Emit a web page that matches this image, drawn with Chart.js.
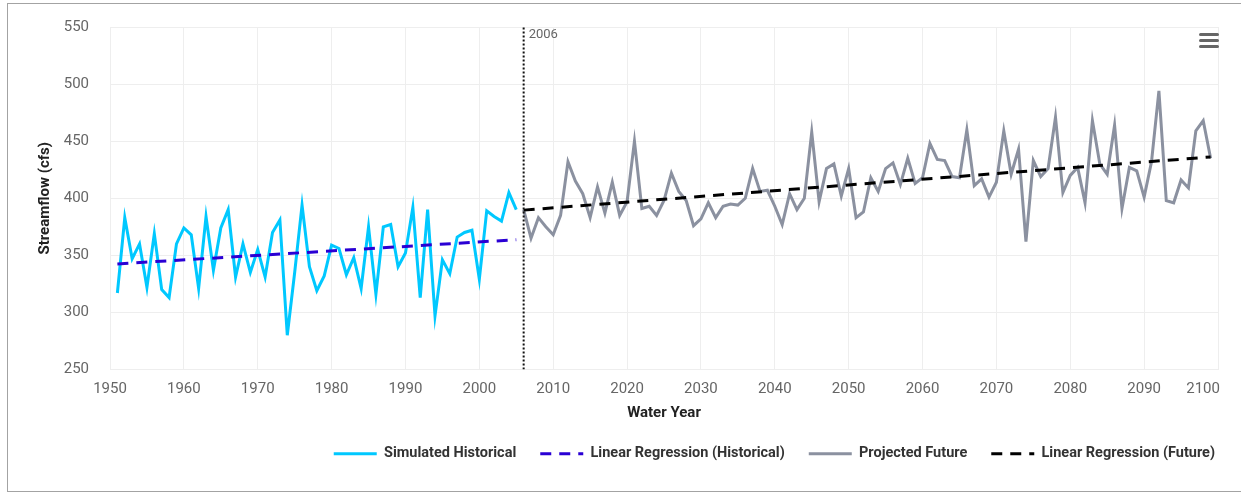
<!DOCTYPE html>
<html>
<head>
<meta charset="utf-8">
<script src="https://cdn.jsdelivr.net/npm/chart.js@4.4.1/dist/chart.umd.min.js"></script>
<style>
  html, body { margin: 0; padding: 0; background: #fff; width: 1241px; height: 494px; overflow: hidden; }
  #frame { position: absolute; left: 7px; top: 3px; width: 1250px; height: 487px; border: 1px solid #a3a3a3; }
  #chart { position: absolute; left: 0; top: 0; }
  .menu { position: absolute; left: 1191px; top: 29px; width: 20px; }
  .menu span { display: block; height: 3px; border-radius: 2px; background: #666; margin-bottom: 3px; }
</style>
</head>
<body>
<div id="frame">
  <canvas id="chart" width="1236" height="467"></canvas>
  <div class="menu"><span></span><span></span><span></span></div>
</div>
<script>
// Annual streamflow (cfs), simulated historical record starting 1951
const histStartYear = 1951;
const histValues = [
  317, 383, 347, 360, 322, 369, 320, 313, 360, 374,
  368, 321, 384, 337, 374, 390, 331, 360, 335, 355,
  331, 370, 381, 280, 335, 394, 340, 319, 332, 359,
  356, 333, 348, 321, 375, 316, 375, 377, 340, 352,
  392, 313, 390, 297, 346, 334, 366, 370, 372, 329,
  389, 384, 380, 405, 390
];

// Projected future streamflow (cfs), starting 2006
const futureStartYear = 2006;
const futureValues = [
  390, 365, 383, 375, 368, 385, 432, 415, 404, 383,
  410, 387, 414, 385, 397, 450, 391, 393, 385, 398,
  422, 406, 398, 376, 382, 396, 383, 393, 395, 394,
  400, 426, 406, 407, 393, 377, 404, 390, 400, 458,
  397, 426, 430, 402, 426, 383, 388, 418, 406, 426,
  431, 412, 435, 413, 418, 448, 434, 433, 419, 418,
  460, 411, 417, 401, 414, 459, 421, 443, 362, 433,
  419, 426, 471, 405, 420, 427, 396, 468, 430, 421,
  464, 391, 427, 424, 401, 432, 494, 398, 396, 416,
  409, 459, 468, 435
];

// Trend line end points
const regHistYears = [1951, 2005];
const regHistValues = [342.5, 363.7];
const regFutureYears = [2006, 2099];
const regFutureValues = [389.6, 436.2];

// Start of the projection period
const markerYear = 2006;

// Axis ranges and tick steps
const xRange = [1950, 2100];
const xStep = 10;
const yRange = [250, 550];
const yStep = 50;

const seriesNames = [
  'Simulated Historical',
  'Linear Regression (Historical)',
  'Projected Future',
  'Linear Regression (Future)'
];

const toPoints = (start, values) => values.map((v, i) => ({ x: start + i, y: v }));
const pairPoints = (xs, ys) => xs.map((x, i) => ({ x: x, y: ys[i] }));

Chart.defaults.font.family = 'Roboto';

const markerLabel = {
  id: 'markerLabel',
  afterDatasetsDraw(chart) {
    const { ctx, chartArea, scales } = chart;
    const px = scales.x.getPixelForValue(markerYear);
    ctx.save();
    ctx.font = '13px Roboto';
    ctx.fillStyle = '#666';
    ctx.textBaseline = 'middle';
    ctx.textAlign = 'left';
    ctx.fillText(String(markerYear), px + 5, chartArea.top + 7.5);
    ctx.restore();
  }
};

const lineBase = { pointRadius: 0, pointHoverRadius: 0, tension: 0, fill: false, pointStyle: 'line' };

new Chart(document.getElementById('chart'), {
  type: 'line',
  data: {
    datasets: [
      Object.assign({}, lineBase, {
        label: seriesNames[0],
        data: toPoints(histStartYear, histValues),
        borderColor: '#00c8ff', backgroundColor: '#00c8ff', borderWidth: 3, order: 2
      }),
      Object.assign({}, lineBase, {
        label: seriesNames[1],
        data: pairPoints(regHistYears, regHistValues),
        borderColor: '#2a00d4', backgroundColor: '#2a00d4', borderWidth: 3, borderDash: [11, 8], order: 1
      }),
      Object.assign({}, lineBase, {
        label: seriesNames[2],
        data: toPoints(futureStartYear, futureValues),
        borderColor: '#8b91a0', backgroundColor: '#8b91a0', borderWidth: 3, order: 2
      }),
      Object.assign({}, lineBase, {
        label: seriesNames[3],
        data: pairPoints(regFutureYears, regFutureValues),
        borderColor: '#000000', backgroundColor: '#000000', borderWidth: 3, borderDash: [11, 8], order: 1
      }),
      Object.assign({}, lineBase, {
        label: 'marker',
        data: pairPoints([markerYear, markerYear], yRange),
        borderColor: '#111111', borderWidth: 2, borderDash: [2, 2], order: 0
      })
    ]
  },
  options: {
    responsive: false,
    animation: false,
    events: [],
    layout: { padding: { left: 0, top: 23, right: 5, bottom: 0 } },
    scales: {
      x: {
        type: 'linear',
        min: xRange[0], max: xRange[1],
        afterFit(scale) { scale.height = 53; scale.paddingLeft = 0; scale.paddingRight = 26; },
        ticks: {
          stepSize: xStep, autoSkip: false, maxRotation: 0, padding: 11,
          color: '#666', font: { size: 15 },
          callback: (v, i, ticks) => (i === ticks.length - 1 ? String(v) + '        ' : String(v))
        },
        grid: { color: '#eeeeee', drawTicks: false },
        border: { display: false },
        title: { display: true, text: 'Water Year', color: '#222', font: { size: 15, weight: 'bold' }, padding: { top: 0, bottom: 0 } }
      },
      y: {
        min: yRange[0], max: yRange[1],
        afterFit(scale) { scale.width = 102; scale.paddingTop = 0; scale.paddingBottom = 0; },
        ticks: { stepSize: yStep, padding: 21, color: '#666', font: { size: 15 } },
        grid: { color: '#eeeeee', drawTicks: false },
        border: { display: false },
        title: { display: true, text: 'Streamflow (cfs)', color: '#222', font: { size: 15, weight: 'bold' }, padding: { top: 28, bottom: 0 } }
      }
    },
    plugins: {
      tooltip: { enabled: false },
      legend: {
        position: 'bottom',
        align: 'end',
        labels: {
          usePointStyle: true,
          pointStyleWidth: 43,
          padding: 24,
          color: '#333',
          font: { size: 14.5, weight: 'bold' },
          filter: (item) => item.datasetIndex < 4,
          sort: (a, b) => a.datasetIndex - b.datasetIndex,
          generateLabels(chart) {
            const items = Chart.defaults.plugins.legend.labels.generateLabels(chart);
            items.forEach((item) => {
              const ds = chart.data.datasets[item.datasetIndex];
              item.lineDash = ds.borderDash || [];
              item.strokeStyle = ds.borderColor;
              item.lineWidth = ds.borderWidth;
              item.pointStyle = 'line';
            });
            return items;
          }
        }
      }
    }
  },
  plugins: [markerLabel]
});
</script>
</body>
</html>
